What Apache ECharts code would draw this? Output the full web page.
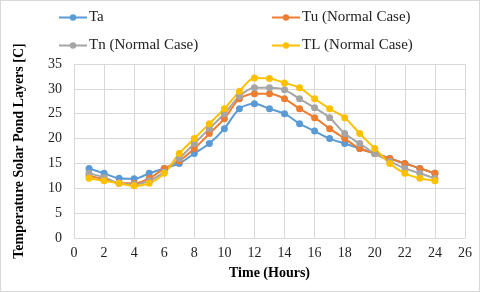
<!DOCTYPE html>
<html><head><meta charset="utf-8">
<script src="https://cdn.jsdelivr.net/npm/echarts@6/dist/echarts.min.js"></script>
<style>html,body{margin:0;padding:0;background:#fff}#c{width:480px;height:292px;box-sizing:border-box;border:1px solid #d9d9d9}</style>
</head><body><div id="c"></div>
<script>
const hours = [1,2,3,4,5,6,7,8,9,10,11,12,13,14,15,16,17,18,19,20,21,22,23,24];
const Ta = [14,13,12,11.9,13,14,15,17,19,22,26,27,26,25,23,21.5,20,19,18,17,16,15,14,13];
const Tu = [12.5,11.8,11,11,12,14,15.5,18,21,24,28,29,29,28,26,24.2,22,20,18,17,16,15,14,13];
const Tn = [13,12.2,11,10.8,11.5,13.3,16,19,22,25,28.5,30.2,30.2,29.8,28,26.2,24.2,21,19,17,15.4,14,13,12];
const TL = [12,11.5,11,10.5,11,13,17,20,23,26,29.5,32.2,32.1,31.2,30.2,28,26,24.2,21,18,15,13,12,11.5];
const xTicks = [0,2,4,6,8,10,12,14,16,18,20,22,24,26];
const yTicks = [0,5,10,15,20,25,30,35];
const names = ['Ta','Tu (Normal Case)','Tn (Normal Case)','TL (Normal Case)'];
const colors = ['#5B9BD5','#ED7D31','#A5A5A5','#FFC000'];
const vals = [Ta,Tu,Tn,TL];
const font = '"Liberation Serif", "Times New Roman", serif';
const chart = echarts.init(document.getElementById('c'));
const legPos = [[52,4],[265,4],[52,32],[265,32]];
chart.setOption({
  animation:false,
  textStyle:{fontFamily:font},
  legend: names.map((n,i)=>({
    data:[n], left:legPos[i][0], top:legPos[i][1], itemWidth:28, itemHeight:8,
    itemGap:4, textStyle:{fontFamily:font,fontSize:15,color:'#222',padding:[0,0,0,-3]}
  })),
  grid:{left:73,right:14,top:63,bottom:53},
  xAxis:{type:'value',min:0,max:26,interval:2,
    name:'Time (Hours)',nameLocation:'middle',nameGap:28,
    nameTextStyle:{fontFamily:font,fontWeight:'bold',fontSize:14,color:'#000'},
    axisLine:{show:true,lineStyle:{color:'#d9d9d9'}},axisTick:{show:false},
    axisLabel:{fontFamily:font,fontSize:14,color:'#222',margin:8,
      formatter:v=>xTicks.includes(v)?String(v):''},
    splitLine:{show:true,lineStyle:{color:'#d9d9d9'}}},
  yAxis:{type:'value',min:0,max:35,interval:5,
    name:'Temperature Solar Pond Layers [C]',nameLocation:'middle',nameGap:48,
    nameTextStyle:{fontFamily:font,fontWeight:'bold',fontSize:14,color:'#000'},
    axisLine:{show:false},axisTick:{show:false},
    axisLabel:{fontFamily:font,fontSize:14,color:'#222',margin:12,
      formatter:v=>yTicks.includes(v)?String(v):''},
    splitLine:{show:true,lineStyle:{color:'#d9d9d9'}}},
  series: names.map((n,i)=>({
    name:n,type:'line',smooth:0.3,symbol:'circle',symbolSize:7,
    data:hours.map((h,j)=>[h,vals[i][j]]),
    lineStyle:{width:2,color:colors[i]},itemStyle:{color:colors[i]}
  }))
});
</script></body></html>
